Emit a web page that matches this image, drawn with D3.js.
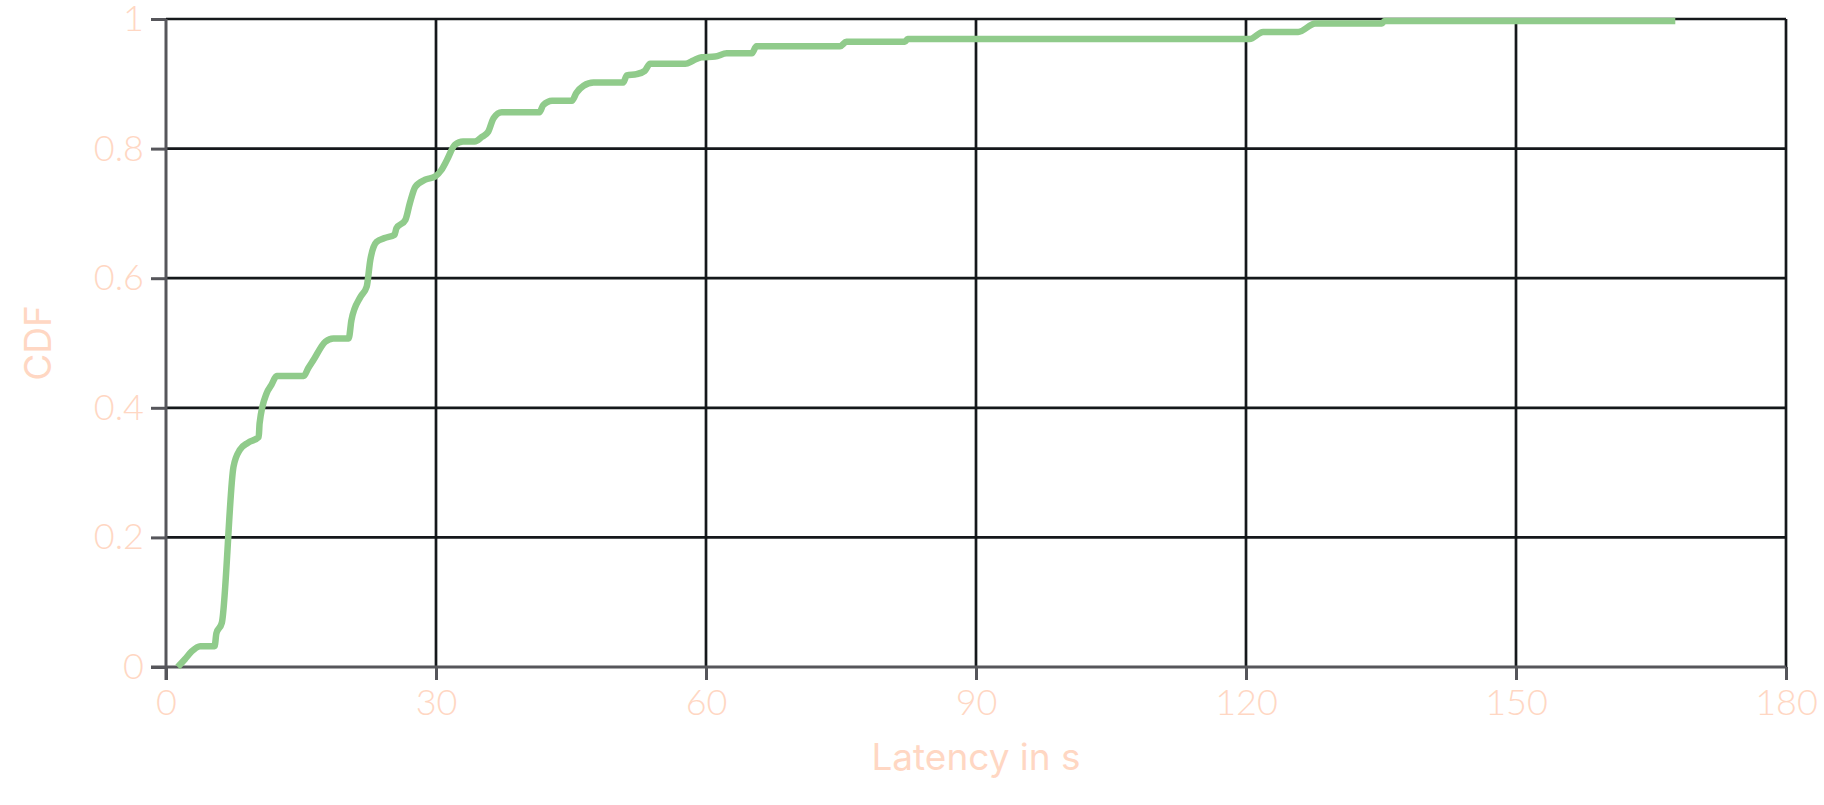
<!DOCTYPE html>
<html>
<head>
<meta charset="utf-8">
<script src="https://cdn.jsdelivr.net/npm/d3@7"></script>
<style>
  html, body { margin: 0; padding: 0; background: #ffffff; }
  svg { display: block; }
</style>
</head>
<body>
<svg id="chart" width="1824" height="805"></svg>
<script>
// Data (latency in seconds, cumulative fraction)
const latency = [1.3, 2.1, 2.85, 3.8, 5.4, 5.6, 6.2, 7.5, 8.2, 9.1, 10.3, 10.4, 11.2, 11.7, 12.3, 15.3, 15.8, 16.4, 17.7, 18.6, 20.3, 20.6, 21.6, 22.3, 22.7, 23.4, 24.3, 25.4, 25.6, 26.6, 27.1, 27.7, 28.8, 29.9, 30.6, 31.2, 32.1, 33.0, 34.3, 35.1, 35.8, 36.4, 37.3, 41.5, 41.9, 42.9, 45.1, 45.6, 46.4, 47.5, 50.8, 51.2, 52.3, 53.2, 53.8, 57.7, 58.6, 59.5, 61.0, 62.3, 65.1, 65.6, 74.9, 75.6, 82.1, 82.4, 120.4, 121.9, 125.8, 127.7, 135.1, 135.4, 167.7];
const cdf = [0.0, 0.012, 0.024, 0.032, 0.032, 0.052, 0.068, 0.309, 0.335, 0.346, 0.355, 0.376, 0.423, 0.435, 0.449, 0.449, 0.461, 0.474, 0.502, 0.507, 0.507, 0.535, 0.571, 0.587, 0.628, 0.656, 0.662, 0.667, 0.677, 0.690, 0.716, 0.741, 0.752, 0.757, 0.767, 0.782, 0.806, 0.811, 0.811, 0.818, 0.826, 0.847, 0.856, 0.856, 0.867, 0.874, 0.874, 0.886, 0.897, 0.902, 0.902, 0.913, 0.915, 0.920, 0.931, 0.931, 0.936, 0.941, 0.942, 0.947, 0.947, 0.958, 0.958, 0.965, 0.965, 0.969, 0.969, 0.980, 0.980, 0.993, 0.993, 0.997, 0.997];
const xTicks = [0, 30, 60, 90, 120, 150, 180];
const yTicks = [0, 0.2, 0.4, 0.6, 0.8, 1];
const xTitle = "Latency in s";
const yTitle = "CDF";

const points = latency.map((v, i) => ({ x: v, y: cdf[i] }));

const W = 1824, H = 805;
const margin = { left: 166, right: 38, top: 19, bottom: 138 };
const iw = W - margin.left - margin.right;
const ih = H - margin.top - margin.bottom;

const peach = "#ffd7c3";
const axisGray = "#56565b";
const gridBlack = "#15181b";
const green = "#90cb8b";
const tickFont = "Lato, Inter, sans-serif";
const titleFont = "Inter, 'Open Sans', sans-serif";

const svg = d3.select("#chart");
const g = svg.append("g").attr("transform", `translate(${margin.left},${margin.top})`);

const x = d3.scaleLinear().domain([0, 180]).range([0, iw]);
const y = d3.scaleLinear().domain([0, 1]).range([ih, 0]);

// Grid
g.append("g").selectAll("line")
  .data(yTicks.filter(d => d > 0))
  .join("line")
  .attr("x1", 0).attr("x2", iw)
  .attr("y1", d => y(d)).attr("y2", d => y(d))
  .attr("stroke", gridBlack).attr("stroke-width", 2.7);

g.append("g").selectAll("line")
  .data(xTicks.filter(d => d > 0))
  .join("line")
  .attr("x1", d => x(d)).attr("x2", d => x(d))
  .attr("y1", 0).attr("y2", ih)
  .attr("stroke", gridBlack).attr("stroke-width", 2.7);

// Axes
const xAxis = g.append("g")
  .attr("transform", `translate(0,${ih})`)
  .call(d3.axisBottom(x).tickValues(xTicks).tickSizeInner(13).tickSizeOuter(0).tickPadding(9).tickFormat(d3.format("d")));
const yAxis = g.append("g")
  .call(d3.axisLeft(y).tickValues(yTicks).tickSizeInner(15).tickSizeOuter(0).tickPadding(7).tickFormat(d => d === 0 ? "0" : d === 1 ? "1" : d3.format(".1f")(d)));

[xAxis, yAxis].forEach(a => {
  a.select(".domain").attr("stroke", axisGray).attr("stroke-width", 3);
  a.selectAll(".tick line").attr("stroke", axisGray).attr("stroke-width", 3);
  a.selectAll(".tick text")
    .attr("fill", peach)
    .style("font-family", tickFont)
    .style("font-weight", 300)
    .style("font-size", "36px");
});
xAxis.select(".domain").attr("d", `M-15,0H${iw}`);
yAxis.select(".domain").attr("d", `M0,${ih + 13}V0`);

// Line
const line = d3.line().x(d => x(d.x)).y(d => y(d.y)).curve(d3.curveMonotoneX);
g.append("path")
  .datum(points)
  .attr("d", line)
  .attr("fill", "none")
  .attr("stroke", green)
  .attr("stroke-width", 6.5)
  .attr("stroke-linejoin", "round")
  .attr("stroke-linecap", "butt");

// Titles
svg.append("text")
  .attr("x", margin.left + iw / 2)
  .attr("y", 770)
  .attr("text-anchor", "middle")
  .attr("fill", peach)
  .style("font-family", titleFont)
  .style("font-weight", 400)
  .style("font-size", "37px")
  .text(xTitle);

svg.append("text")
  .attr("transform", `translate(51,${margin.top + ih / 2}) rotate(-90)`)
  .attr("text-anchor", "middle")
  .attr("fill", peach)
  .style("font-family", titleFont)
  .style("font-weight", 400)
  .style("font-size", "37px")
  .text(yTitle);
</script>
</body>
</html>
